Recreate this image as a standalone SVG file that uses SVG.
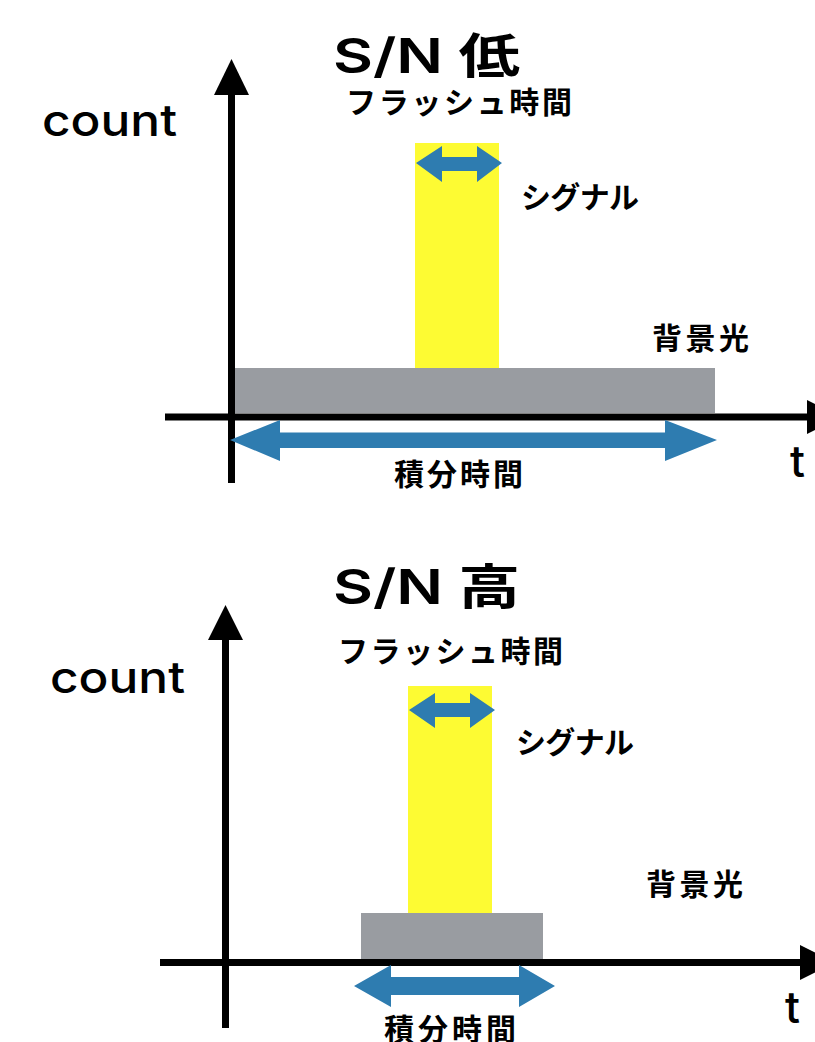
<svg xmlns="http://www.w3.org/2000/svg" width="815" height="1042" viewBox="0 0 815 1042">
<style>
.ax{stroke:#000;stroke-width:7;fill:none}
.ah{fill:#000}
.yl{fill:#fdfb33}
.gr{fill:#999ca1}
.ar{fill:#2e7cb0}
.lat{font-family:Inter,"Liberation Sans","Noto Sans CJK JP",sans-serif;font-weight:500;fill:#000}
.ttl{font-family:Inter,"Liberation Sans","Noto Sans CJK JP",sans-serif;font-weight:600;font-size:48px;fill:#000}
.jp{font-family:"Noto Sans CJK JP",sans-serif;font-weight:bold;font-size:30px;fill:#000}
</style>
<rect width="815" height="1042" fill="#fff"/>

<g id="top-panel">
  <g id="top-signal"><rect class="yl" x="415" y="143" width="84" height="226"/></g>
  <g id="top-background"><rect class="gr" x="232" y="368" width="483" height="45"/></g>
  <g id="top-axes">
    <line class="ax" x1="231.5" y1="90" x2="231.5" y2="483"/>
    <polygon class="ah" points="214,95 249,95 231.5,59"/>
    <line class="ax" x1="165" y1="417" x2="808" y2="417"/>
    <polygon class="ah" points="807,400 807,434 842,417"/>
  </g>
  <g id="top-labels">
    <text class="ttl" x="333" y="73" textLength="187" lengthAdjust="spacingAndGlyphs">S/N 低</text>
    <text class="lat" x="42" y="136" font-size="44" textLength="135" lengthAdjust="spacingAndGlyphs">count</text>
    <text class="jp" x="346" y="113" textLength="226" lengthAdjust="spacing">フラッシュ時間</text>
    <text class="jp" x="521" y="208" textLength="118" lengthAdjust="spacing">シグナル</text>
    <text class="jp" x="652" y="349" textLength="97" lengthAdjust="spacing">背景光</text>
    <text class="jp" x="394" y="485" textLength="129" lengthAdjust="spacing">積分時間</text>
    <text class="lat" x="790" y="477" font-size="44">t</text>
  </g>
</g>

<g id="bottom-panel">
  <g id="bottom-signal"><rect class="yl" x="408" y="686" width="84" height="227"/></g>
  <g id="bottom-background"><rect class="gr" x="361" y="913" width="182" height="47"/></g>
  <g id="bottom-axes">
    <line class="ax" x1="225.5" y1="635" x2="225.5" y2="1028"/>
    <polygon class="ah" points="208,640 243,640 225.5,605"/>
    <line class="ax" x1="160" y1="962.5" x2="801" y2="962.5"/>
    <polygon class="ah" points="800,945 800,980 835,962.5"/>
  </g>
  <g id="bottom-labels">
    <text class="ttl" x="333" y="604" textLength="187" lengthAdjust="spacingAndGlyphs">S/N 高</text>
    <text class="lat" x="50" y="693" font-size="44" textLength="135" lengthAdjust="spacingAndGlyphs">count</text>
    <text class="jp" x="338" y="662" textLength="225" lengthAdjust="spacing">フラッシュ時間</text>
    <text class="jp" x="516" y="753" textLength="118" lengthAdjust="spacing">シグナル</text>
    <text class="jp" x="646" y="895" textLength="97" lengthAdjust="spacing">背景光</text>
    <text class="jp" x="384" y="1040" textLength="132" lengthAdjust="spacing">積分時間</text>
    <text class="lat" x="785" y="1023" font-size="44">t</text>
  </g>
</g>

<g id="connectors">
  <polygon id="top-signal-arrow" class="ar" points="416,163 442,146 442,157 477,157 477,146 502,163 477,182 477,171 442,171 442,182"/>
  <polygon id="top-integration-arrow" class="ar" points="230,440 280,420 280,432.5 665,432.5 665,420 717,440 665,461 665,448 280,448 280,461"/>
  <polygon id="bottom-signal-arrow" class="ar" points="409,710 435,693 435,703 470,703 470,693 495,710 470,728 470,717 435,717 435,728"/>
  <polygon id="bottom-integration-arrow" class="ar" points="354,986 391,965 391,977 519,977 519,965 555,986 519,1007 519,995 391,995 391,1007"/>
</g>
</svg>
